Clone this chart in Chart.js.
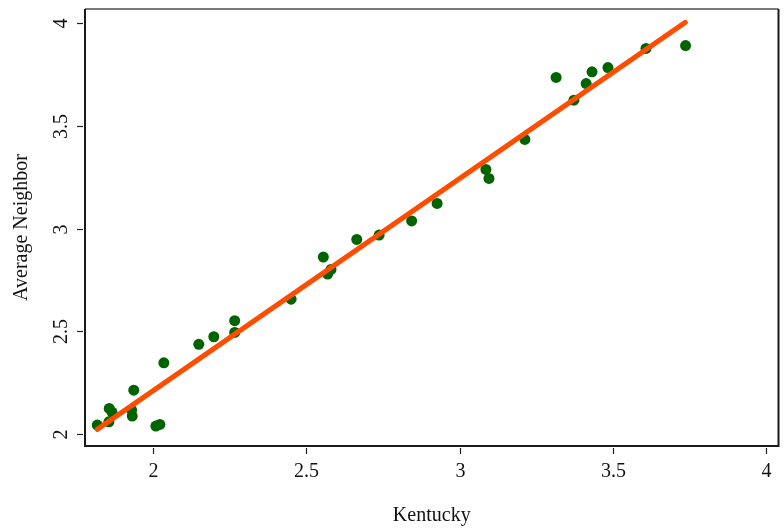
<!DOCTYPE html>
<html>
<head>
<meta charset="utf-8">
<script src="https://cdn.jsdelivr.net/npm/chart.js@4/dist/chart.umd.min.js"></script>
<style>
  html, body { margin: 0; padding: 0; background: #fff; }
  #wrap { width: 784px; height: 529px; }
</style>
</head>
<body>
<div id="wrap"><canvas id="c" width="784" height="529"></canvas></div>
<script>
// Kentucky score vs. average of neighbouring states
const kentucky = [1.819, 1.858, 1.867, 1.857, 1.938, 1.931, 1.933, 2.010, 2.023, 2.036,
                  2.150, 2.199, 2.267, 2.267, 2.451, 2.556, 2.570, 2.581, 2.665, 2.738,
                  2.844, 2.927, 3.086, 3.096, 3.213, 3.315, 3.373, 3.413, 3.432, 3.484,
                  3.608, 3.737];
const avgNeighbor = [2.044, 2.125, 2.107, 2.060, 2.214, 2.117, 2.088, 2.039, 2.047, 2.347,
                     2.437, 2.474, 2.552, 2.495, 2.657, 2.862, 2.779, 2.802, 2.948, 2.969,
                     3.038, 3.123, 3.289, 3.245, 3.435, 3.737, 3.626, 3.707, 3.764, 3.785,
                     3.878, 3.892];

// fitted line end points
const fitX = [1.819, 3.736];
const fitY = [2.023, 4.005];

const xTicks = [2, 2.5, 3, 3.5, 4];
const xTickLabels = ['2', '2.5', '3', '3.5', '4'];
const yTicks = [2, 2.5, 3, 3.5, 4];
const yTickLabels = ['2', '2.5', '3', '3.5', '4'];

const xTitle = 'Kentucky';
const yTitle = 'Average Neighbor';

const FONT = '20px "Liberation Serif", "Times New Roman", serif';

// frame, tick marks, tick labels and axis titles
const axesPlugin = {
  id: 'framedAxes',
  afterDraw(chart) {
    const ctx = chart.ctx;
    const a = chart.chartArea;
    const xs = chart.scales.x, ys = chart.scales.y;
    ctx.save();

    // frame
    ctx.lineWidth = 2;
    ctx.strokeStyle = '#7a7a7a';
    ctx.beginPath();
    ctx.moveTo(a.left, a.top); ctx.lineTo(a.right, a.top);
    ctx.stroke();
    ctx.strokeStyle = '#1a1a1a';
    ctx.beginPath();
    ctx.moveTo(a.right, a.top); ctx.lineTo(a.right, a.bottom);
    ctx.lineTo(a.left, a.bottom); ctx.lineTo(a.left, a.top);
    ctx.stroke();

    ctx.fillStyle = '#111';
    ctx.font = FONT;
    ctx.lineWidth = 1.2;
    ctx.strokeStyle = '#222';

    // x ticks
    xTicks.forEach((v, i) => {
      const px = Math.round(xs.getPixelForValue(v)) + 0.5;
      ctx.beginPath();
      ctx.moveTo(px, a.bottom + 2); ctx.lineTo(px, a.bottom + 8);
      ctx.stroke();
      ctx.textAlign = 'center';
      ctx.textBaseline = 'alphabetic';
      ctx.fillText(xTickLabels[i], px, a.bottom + 31);
    });

    // y ticks (labels rotated)
    yTicks.forEach((v, i) => {
      const py = Math.round(ys.getPixelForValue(v)) + 0.5;
      ctx.beginPath();
      ctx.moveTo(a.left - 2, py); ctx.lineTo(a.left - 8, py);
      ctx.stroke();
      ctx.save();
      ctx.translate(a.left - 18, py);
      ctx.rotate(-Math.PI / 2);
      ctx.textAlign = 'center';
      ctx.textBaseline = 'alphabetic';
      ctx.fillText(yTickLabels[i], 0, 0);
      ctx.restore();
    });

    // axis titles
    ctx.textAlign = 'center';
    ctx.textBaseline = 'alphabetic';
    ctx.fillText(xTitle, (a.left + a.right) / 2, a.bottom + 75);
    ctx.save();
    ctx.translate(27, (a.top + a.bottom) / 2);
    ctx.rotate(-Math.PI / 2);
    ctx.fillText(yTitle, 0, 0);
    ctx.restore();

    ctx.restore();
  }
};

new Chart(document.getElementById('c'), {
  type: 'scatter',
  data: {
    datasets: [
      {
        type: 'line',
        data: fitX.map((x, i) => ({ x: x, y: fitY[i] })),
        borderColor: 'rgb(255,77,0)',
        borderWidth: 5,
        borderCapStyle: 'round',
        pointRadius: 0,
        fill: false,
        order: 0
      },
      {
        data: kentucky.map((x, i) => ({ x: x, y: avgNeighbor[i] })),
        backgroundColor: 'rgb(0,100,0)',
        borderColor: 'rgb(0,100,0)',
        pointRadius: 5.5,
        pointBorderWidth: 0,
        order: 1
      }
    ]
  },
  options: {
    responsive: false,
    animation: false,
    events: [],
    layout: { padding: { left: 85, right: 4, top: 9, bottom: 83 } },
    plugins: { legend: { display: false }, tooltip: { enabled: false } },
    scales: {
      x: { type: 'linear', min: 1.779, max: 4.04, display: false },
      y: { type: 'linear', min: 1.942, max: 4.07, display: false }
    }
  },
  plugins: [axesPlugin]
});
</script>
</body>
</html>
